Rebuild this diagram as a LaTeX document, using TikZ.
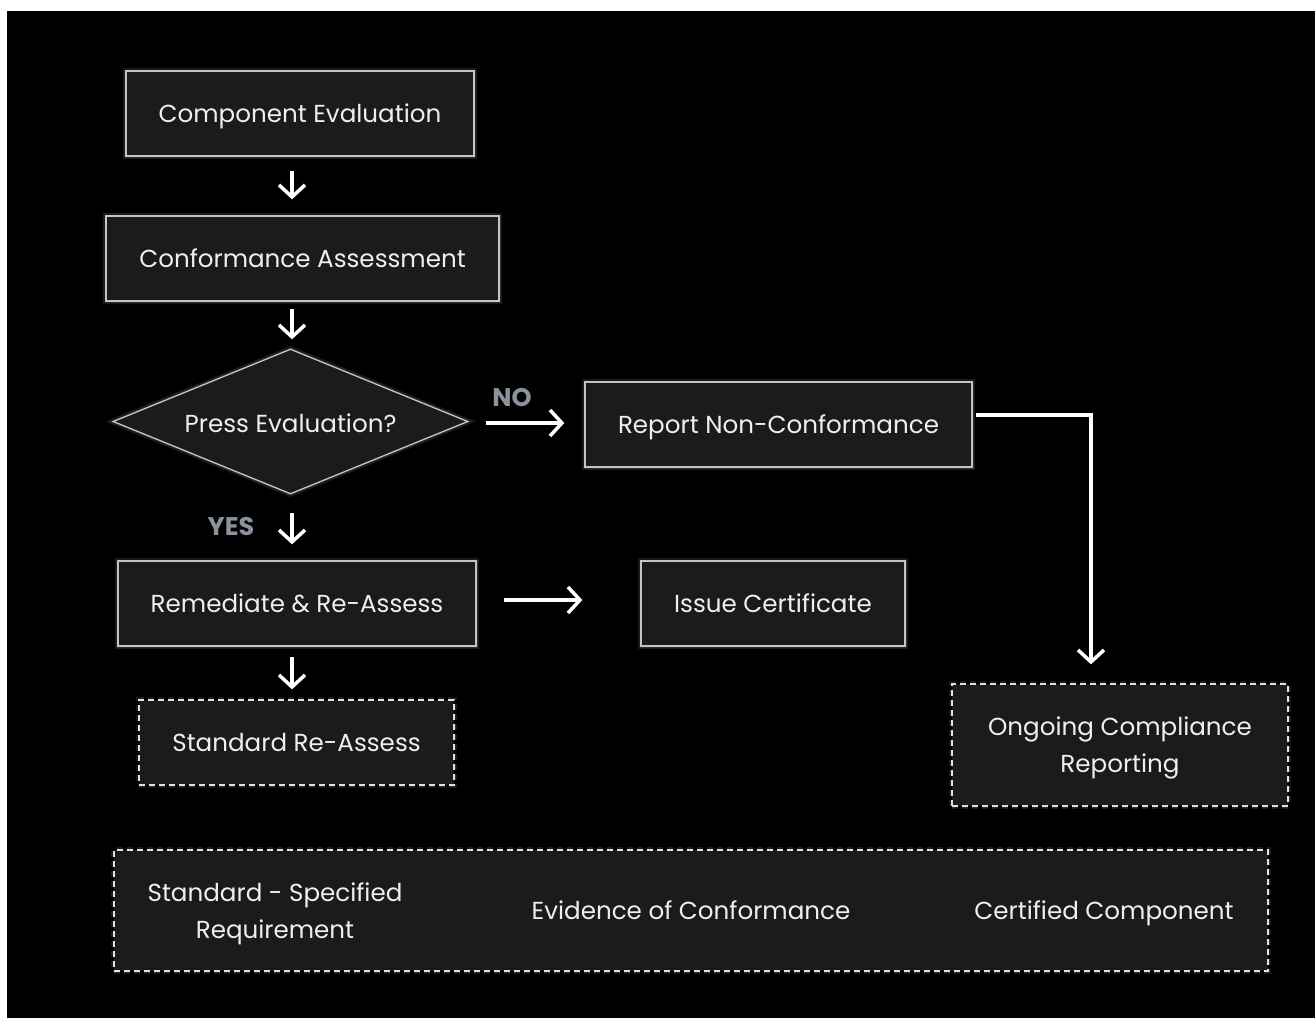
\documentclass[tikz,border=0pt]{standalone}
\usepackage{fontspec}
\setmainfont{Poppins}
\usetikzlibrary{shapes.geometric,arrows.meta,calc}
\definecolor{boxfill}{HTML}{1B1B1B}
\definecolor{boxline}{HTML}{C4C4C4}
\definecolor{dashline}{HTML}{E2E2E2}
\definecolor{txt}{HTML}{EFEFEF}
\definecolor{lbl}{HTML}{8C929C}
\tikzset{
  glow/.style={preaction={draw=white,draw opacity=0.10,line width=6pt},
               preaction={draw=white,draw opacity=0.08,line width=3pt}},
  % text is centred on its capitals: height = cap height, no depth
  captext/.style={text height=17pt,text depth=0pt},
  multi/.style={text height=,text depth=0pt},
  procbox/.style={draw=boxline,fill=boxfill,line width=1.3pt,glow,captext,
    text=txt,font=\fontsize{24.6}{37}\selectfont,inner sep=0pt,align=center},
  dashbox/.style={procbox,draw=dashline,dash pattern=on 6pt off 4pt},
  decision/.style={procbox,diamond,aspect=2.45},
  plain/.style={text=txt,font=\fontsize{24.6}{37}\selectfont,align=center,
    inner sep=0pt,captext},
  answer/.style={text=lbl,font=\fontsize{25.5}{30}\selectfont\bfseries,inner sep=0pt},
  arr/.style={draw=white,line width=3.5pt,
    -{Straight Barb[length=12pt,width=26pt,line width=3.5pt]}}
}
\begin{document}
\begin{tikzpicture}[x=1pt,y=-1pt]
  % page and dark canvas
  \fill[white] (0,0) rectangle (1315,1018);
  \fill[black] (7,11) rectangle (1315,1018);
  \useasboundingbox (0,0) rectangle (1315,1018);

  % process steps
  \node[procbox,minimum width=348pt,minimum height=85pt] (ce) at (300,113.5) {Component Evaluation};
  \node[procbox,minimum width=393pt,minimum height=85pt] (ca) at (302.5,258.5) {Conformance Assessment};
  \node[decision,text height=22pt,minimum width=355pt,minimum height=145pt] (pe) at (290.5,421.5) {Press Evaluation?};
  \node[procbox,minimum width=387pt,minimum height=85pt] (rnc) at (778.5,424.5) {Report Non-Conformance};
  \node[procbox,minimum width=358pt,minimum height=85pt] (rr) at (297,603.5) {Remediate \& Re-Assess};
  \node[procbox,minimum width=264pt,minimum height=85pt] (ic) at (773,603.5) {Issue Certificate};
  \node[dashbox,minimum width=315pt,minimum height=85pt] (sr) at (296.5,742.5) {Standard Re-Assess};
  \node[dashbox,multi,minimum width=336pt,minimum height=122pt] (ocr) at (1120,745) {Ongoing Compliance\\Reporting};

  % outputs strip
  \node[dashbox,minimum width=1154pt,minimum height=121pt] (out) at (691,910.5) {};
  \node[plain,multi] (req) at (275,910.5) {Standard - Specified\\Requirement};
  \node[plain] (evi) at (691,911) {Evidence of Conformance};
  \node[plain] (cert) at (1104,911) {Certified Component};

  % branch labels
  \node[answer] (no) at (512,398) {NO};
  \node[answer] (yes) at (231,527) {YES};

  % connectors
  \draw[arr] ($(ce.south)+(-8,14)$) -- ($(ca.north)+(-10.5,-16)$);
  \draw[arr] ($(ca.south)+(-10.5,7)$) -- ($(pe.north)+(1.5,-9)$);
  \draw[arr] ($(pe.east)+(17,1.5)$) -- ($(rnc.west)+(-20,-1.5)$);
  \draw[arr] ($(pe.south)+(1.5,18)$) -- ($(rr.north)+(-5,-16)$);
  \draw[arr] ($(rr.east)+(27,-3.5)$) -- ($(ic.west)+(-58,-3.5)$);
  \draw[arr] ($(rr.south)+(-5,10)$) -- ($(sr.north)+(-4.5,-10)$);
  \draw[arr] ($(rnc.east)+(3,-9.5)$) -| ($(ocr.north)+(-29,-19)$);
\end{tikzpicture}
\end{document}
